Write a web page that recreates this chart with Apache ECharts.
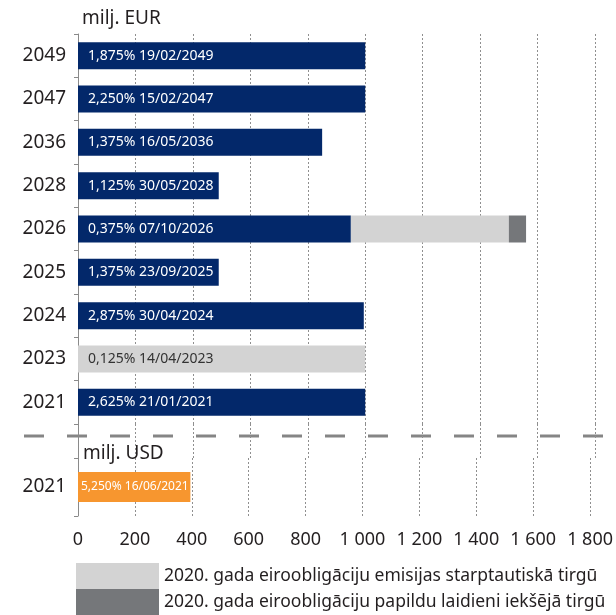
<!DOCTYPE html>
<html>
<head>
<meta charset="utf-8">
<script src="https://cdn.jsdelivr.net/npm/echarts@6/dist/echarts.min.js"></script>
<style>
  html, body { margin: 0; padding: 0; background: #fff; }
  #chart { width: 616px; height: 615px; }
</style>
</head>
<body>
<div id="chart"></div>
<script>
// eiroobligācijas (milj. EUR), no augšas uz leju
var years = ['2049', '2047', '2036', '2028', '2026', '2025', '2024', '2023', '2021'];
var coupons = ['1,875% 19/02/2049', '2,250% 15/02/2047', '1,375% 16/05/2036', '1,125% 30/05/2028',
  '0,375% 07/10/2026', '1,375% 23/09/2025', '2,875% 30/04/2024', '0,125% 14/04/2023', '2,625% 21/01/2021'];
var existing = [1000, 1000, 850, 490, 950, 490, 995, '-', 1000];
var intl2020 = ['-', '-', '-', '-', 550, '-', '-', 1000, '-'];
var domestic2020 = ['-', '-', '-', '-', 60, '-', '-', '-', '-'];

// dolāru obligācijas (milj. USD)
var usdYears = ['2021'];
var usdCoupons = ['5,250% 16/06/2021'];
var usdValues = [395];

var xTicks = { min: 0, max: 1800, interval: 200 };
var names = ['2020. gada eiroobligāciju emisijas starptautiskā tirgū',
  '2020. gada eiroobligāciju papildu laidieni iekšējā tirgū'];

var txt = '#231f20';
var font = 'Noto Sans';

var chart = echarts.init(document.getElementById('chart'));

function xAxis(idx, showLabels) {
  return {
    type: 'value', gridIndex: idx, min: xTicks.min, max: xTicks.max, interval: xTicks.interval,
    axisLine: { show: false }, axisTick: { show: false },
    axisLabel: {
      show: showLabels, color: txt, fontSize: 18, fontFamily: font, margin: 15,
      formatter: function (v) { return v >= 1000 ? Math.floor(v / 1000) + ' ' + String(v % 1000).padStart(3, '0') : String(v); }
    },
    splitLine: { show: true, lineStyle: { color: '#8f8f8f', width: 1, type: [2, 2] } }
  };
}

function yCat(idx, data) {
  return {
    type: 'category', gridIndex: idx, data: data, inverse: true,
    axisLine: { show: true, lineStyle: { color: '#8a8a8a', width: 1 } },
    axisTick: { show: true, length: 4, lineStyle: { color: '#8a8a8a' } },
    axisLabel: { color: txt, fontSize: 19, fontFamily: font, margin: 12 }
  };
}

chart.setOption({
  animation: false,
  textStyle: { fontFamily: font },
  title: [
    { text: 'milj. EUR', left: 82, top: 9, padding: 0, textStyle: { fontSize: 19, fontWeight: 'normal', color: txt, fontFamily: font } },
    { text: 'milj. USD', left: 83, top: 444, padding: 0, textStyle: { fontSize: 19, fontWeight: 'normal', color: txt, fontFamily: font } }
  ],
  grid: [
    { left: 78, right: 21, top: 34, height: 390 },
    { left: 78, right: 21, top: 424, height: 34 },
    { left: 78, right: 21, top: 458, height: 58 }
  ],
  xAxis: [xAxis(0, false), xAxis(1, false), xAxis(2, true)],
  yAxis: [
    yCat(0, years),
    { type: 'value', gridIndex: 1, min: 0, max: 1, axisLine: { show: true, lineStyle: { color: '#8a8a8a' } },
      axisTick: { show: false }, axisLabel: { show: false }, splitLine: { show: false } },
    yCat(2, usdYears)
  ],
  legend: {
    orient: 'vertical', left: 76, top: 563, padding: 0, itemWidth: 83, itemHeight: 26, itemGap: 0,
    icon: 'rect', data: names, selectedMode: false,
    textStyle: { color: txt, fontSize: 17.5, fontFamily: font }
  },
  graphic: [{
    type: 'line', silent: true,
    shape: { x1: 24, y1: 436, x2: 616, y2: 436 },
    style: { stroke: '#858585', lineWidth: 3, lineDash: [20, 23] }
  }],
  series: [
    {
      name: 'esošās', type: 'bar', stack: 'eur', xAxisIndex: 0, yAxisIndex: 0, barWidth: 27,
      data: existing, itemStyle: { color: '#03286a' },
      label: { show: true, position: 'insideLeft', distance: 10, color: '#fff', fontSize: 14, fontFamily: font,
        formatter: function (p) { return coupons[p.dataIndex]; } }
    },
    {
      name: names[0], type: 'bar', stack: 'eur', xAxisIndex: 0, yAxisIndex: 0, barWidth: 27,
      data: intl2020, itemStyle: { color: '#d3d3d3' },
      label: { show: true, position: 'insideLeft', distance: 10, color: '#333', fontSize: 14, fontFamily: font,
        formatter: function (p) { return existing[p.dataIndex] === '-' ? coupons[p.dataIndex] : ''; } }
    },
    {
      name: names[1], type: 'bar', stack: 'eur', xAxisIndex: 0, yAxisIndex: 0, barWidth: 27,
      data: domestic2020, itemStyle: { color: '#75777a' }
    },
    {
      name: 'USD', type: 'bar', xAxisIndex: 2, yAxisIndex: 2, barWidth: 30,
      data: usdValues, itemStyle: { color: '#f7962f' },
      label: { show: true, position: 'insideLeft', distance: 3, color: '#fff', fontSize: 12, fontFamily: font,
        formatter: function (p) { return usdCoupons[p.dataIndex]; } }
    }
  ]
});
</script>
</body>
</html>
